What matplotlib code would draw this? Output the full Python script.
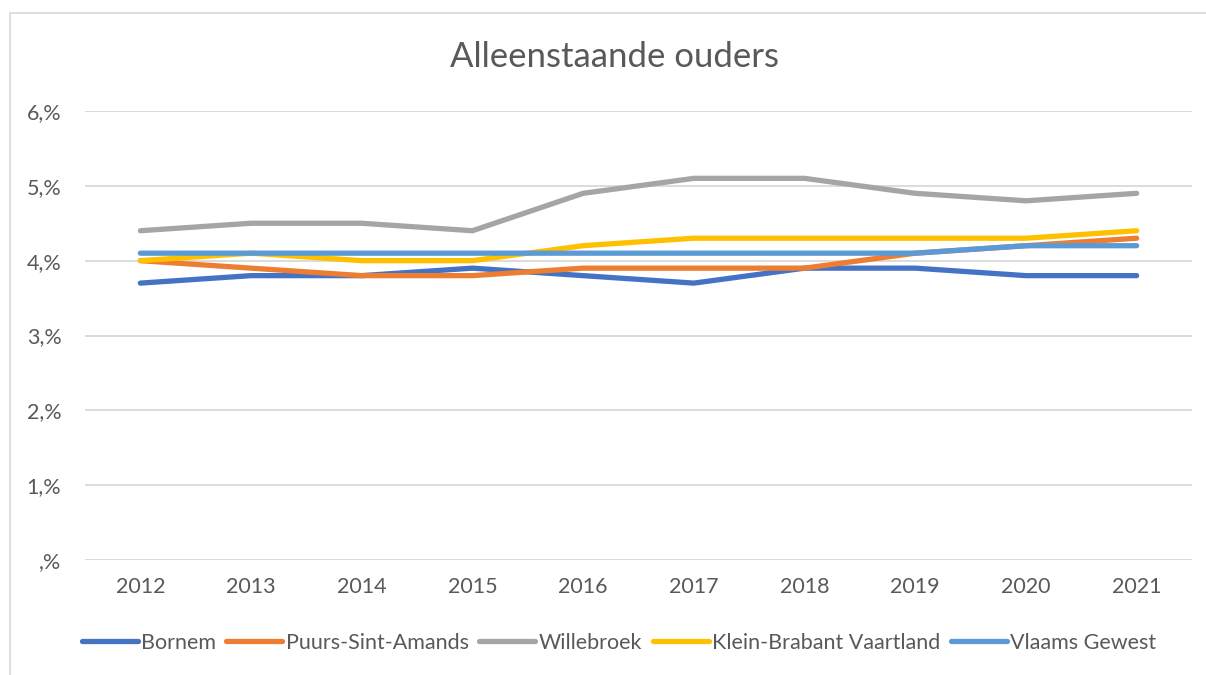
import matplotlib
matplotlib.use("Agg")
import matplotlib.pyplot as plt
from matplotlib.patches import Rectangle

years = ["2012", "2013", "2014", "2015", "2016", "2017", "2018", "2019", "2020", "2021"]
bornem = [3.7, 3.8, 3.8, 3.9, 3.8, 3.7, 3.9, 3.9, 3.8, 3.8]
puurs = [4.0, 3.9, 3.8, 3.8, 3.9, 3.9, 3.9, 4.1, 4.2, 4.3]
willebroek = [4.4, 4.5, 4.5, 4.4, 4.9, 5.1, 5.1, 4.9, 4.8, 4.9]
klein_brabant = [4.0, 4.1, 4.0, 4.0, 4.2, 4.3, 4.3, 4.3, 4.3, 4.4]
vlaams = [4.1, 4.1, 4.1, 4.1, 4.1, 4.1, 4.1, 4.1, 4.2, 4.2]
series_names = ["Bornem", "Puurs-Sint-Amands", "Willebroek", "Klein-Brabant Vaartland", "Vlaams Gewest"]
colors = ["#4472C4", "#ED7D31", "#A5A5A5", "#FFC000", "#5B9BD5"]
ytick_vals = [0, 1, 2, 3, 4, 5, 6]
ytick_labels = [",%", "1,%", "2,%", "3,%", "4,%", "5,%", "6,%"]

plt.rcParams['font.family'] = ['Lato', 'DejaVu Sans']

fig = plt.figure(figsize=(12.06, 6.75), dpi=100)
ax = fig.add_axes([85/1206, 1-560/675, (1192-85)/1206, (560-111)/675])

x = list(range(len(years)))
for name, vals, c in zip(series_names, [bornem, puurs, willebroek, klein_brabant, vlaams], colors):
    ax.plot(x, vals, color=c, lw=3.8, solid_capstyle='round', solid_joinstyle='round', label=name)

ax.set_xlim(-0.5, len(years) - 0.5)
ax.set_ylim(0, 6)
ax.set_yticks(ytick_vals)
ax.set_yticklabels(ytick_labels)
ax.set_xticks(x)
ax.set_xticklabels(years)
ax.grid(axis='y', color='#D9D9D9', lw=1.3)
ax.set_axisbelow(True)
for s in ax.spines.values():
    s.set_visible(False)
ax.tick_params(axis='both', length=0, labelsize=15.5, colors='#595959')
ax.tick_params(axis='x', pad=12)
ax.tick_params(axis='y', pad=17)

fig.text(615/1206, 1-57/675, "Alleenstaande ouders", ha='center', va='center', fontsize=25, color='#595959')

leg = fig.legend(loc='center', bbox_to_anchor=(619/1206, 1-643/675), ncol=5, frameon=False,
                 fontsize=15.5, handlelength=2.6, handletextpad=0.15, columnspacing=0.5,
                 labelcolor='#595959')

fig.patches.append(Rectangle((9.5/1206, -0.05), 1.2, 1 - 13/675 + 0.05, transform=fig.transFigure,
                             fill=False, edgecolor='#D9D9D9', lw=1.2))

fig.savefig("out.png", dpi=100, facecolor='white')
